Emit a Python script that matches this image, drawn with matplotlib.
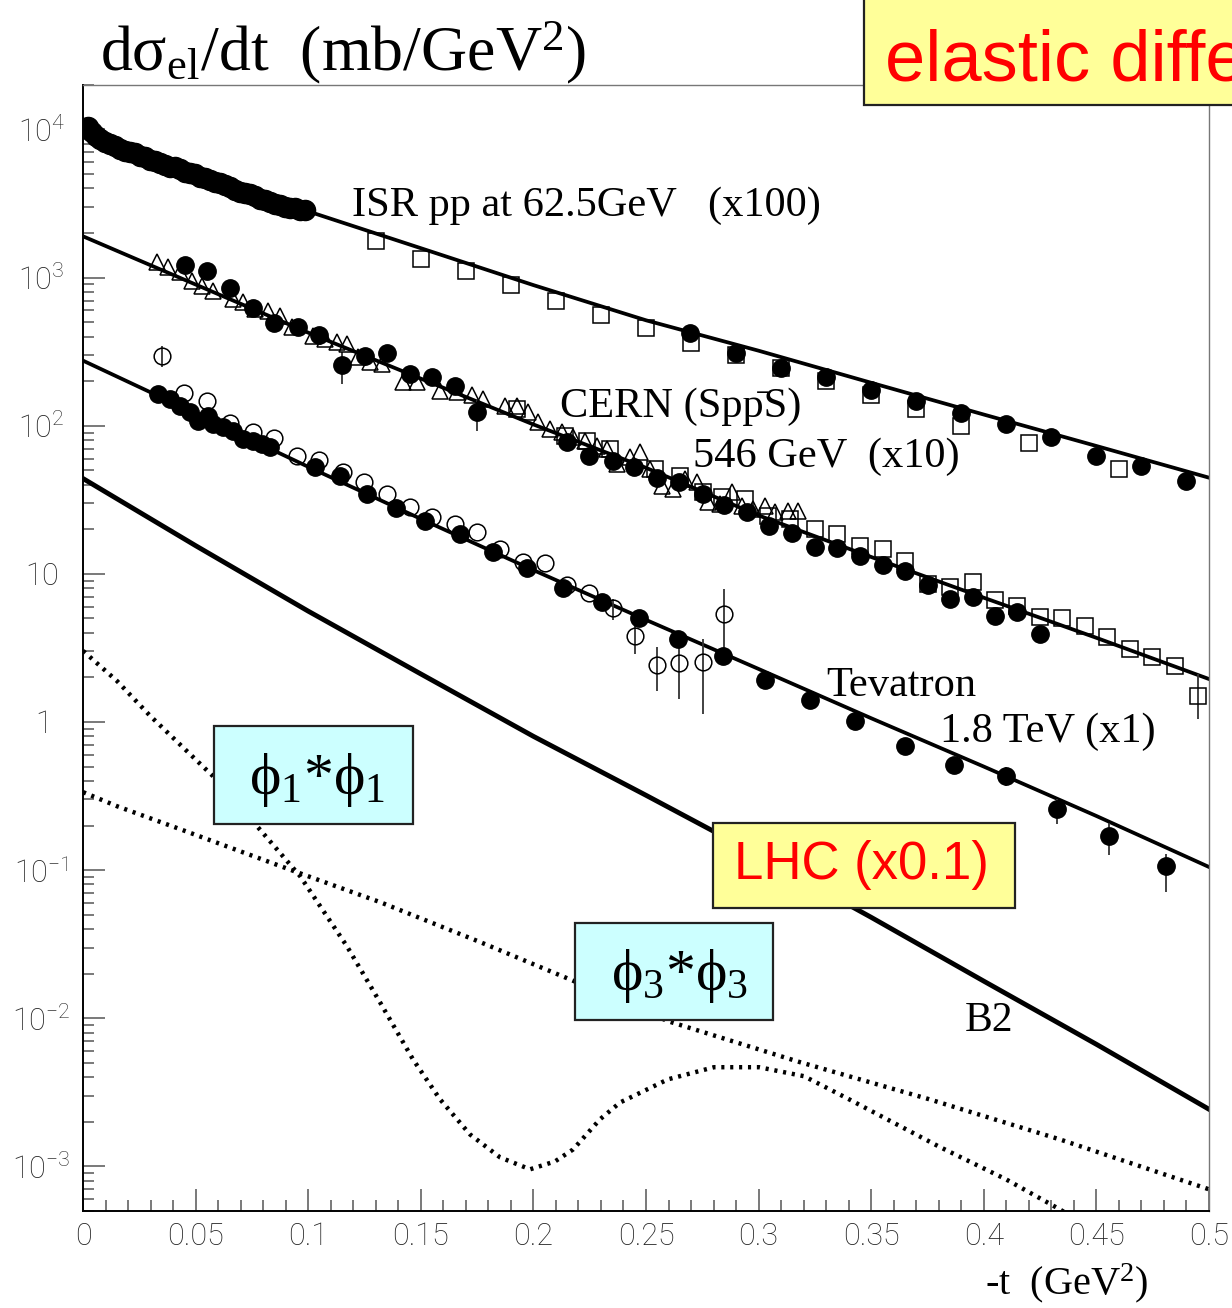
import matplotlib
matplotlib.use("Agg")
import matplotlib.pyplot as plt
from matplotlib.patches import Rectangle
from matplotlib.ticker import MultipleLocator, LogLocator, NullFormatter

plt.rcParams['mathtext.fontset'] = 'custom'
plt.rcParams['mathtext.rm'] = 'Liberation Serif'
plt.rcParams['mathtext.it'] = 'Liberation Serif:italic'
plt.rcParams['mathtext.bf'] = 'Liberation Serif:bold'
plt.rcParams['mathtext.sf'] = 'Roboto:light'

# ---- fitted curves ----
curve_t = [0, 0.05, 0.1, 0.15, 0.2, 0.25, 0.3, 0.35, 0.4, 0.45, 0.5]
isr_fit = [8900, 4850, 2800, 1580, 890, 515, 321, 195, 119, 73, 44.6]
cern_fit = [1900, 898, 425, 208, 102, 52, 24.8, 13.0, 6.9, 3.70, 1.95]
tev_fit = [275, 121, 52.8, 23.5, 10.6, 4.89, 2.28, 1.06, 0.50, 0.232, 0.105]
lhc_fit = [44, 15.5, 5.6, 2.11, 0.80, 0.32, 0.126, 0.048, 0.0178, 0.00667, 0.00243]

phi1_t = [0, 0.0151, 0.0298, 0.0577, 0.0764, 0.0964, 0.1172, 0.1319, 0.1465, 0.1585,
          0.1719, 0.1852, 0.1985, 0.2096, 0.2176, 0.2296, 0.2385, 0.2598, 0.2802,
          0.3002, 0.3202, 0.3401, 0.3801, 0.4099, 0.4338, 0.4498]
phi1_y = [3.02, 1.89, 1.10, 0.431, 0.205, 0.0910, 0.0306, 0.0128, 5.28e-3, 2.84e-3,
          1.64e-3, 1.15e-3, 9.55e-4, 1.08e-3, 1.30e-3, 2.08e-3, 2.70e-3, 3.87e-3, 4.67e-3,
          4.67e-3, 4.06e-3, 2.84e-3, 1.36e-3, 8.17e-4, 5.12e-4, 3.64e-4]
phi3_t = [0, 0.0151, 0.0431, 0.0950, 0.1319, 0.1763, 0.2158, 0.2598, 0.3184, 0.3757, 0.4338, 0.5]
phi3_y = [0.336, 0.270, 0.189, 0.0968, 0.0608, 0.0327, 0.0184, 9.55e-3, 5.05e-3, 2.84e-3, 1.52e-3, 7.0e-4]

# ---- ISR pp 62.5 GeV (x100) ----
isr_band_t = [0.0022, 0.0040, 0.0058, 0.0075, 0.0098, 0.0120, 0.0142, 0.0164, 0.0187, 0.0209,
              0.0231, 0.0253, 0.0275, 0.0298, 0.0320, 0.0342, 0.0364, 0.0386, 0.0409, 0.0431,
              0.0453, 0.0475, 0.0497, 0.0520, 0.0542, 0.0564, 0.0586, 0.0608, 0.0631, 0.0653,
              0.0675, 0.0697, 0.0719, 0.0742, 0.0764, 0.0786, 0.0808, 0.0830, 0.0853, 0.0875,
              0.0897, 0.0919, 0.0941, 0.0964, 0.0986]
isr_band_y = [10470, 9690, 8970, 8560, 8170, 7920, 7680, 7440, 7210, 7100,
              6890, 6670, 6470, 6270, 6080, 5980, 5800, 5620, 5540, 5370,
              5200, 5120, 4970, 4810, 4670, 4590, 4450, 4320, 4190, 4060,
              3930, 3810, 3750, 3640, 3530, 3420, 3320, 3260, 3160, 3110,
              3020, 2970, 2930, 2880, 2840]
isr_dot_t = [0.2695, 0.290, 0.310, 0.330, 0.350, 0.370, 0.390, 0.410, 0.430, 0.450, 0.470, 0.490]
isr_dot_y = [425, 311, 247, 214, 175, 148, 122, 102, 84.3, 62.7, 53.7, 42.5]
isr_sq_t = [0.130, 0.150, 0.170, 0.190, 0.210, 0.230, 0.250, 0.270, 0.290, 0.310, 0.330,
            0.350, 0.370, 0.390, 0.420, 0.460]
isr_sq_y = [1780, 1340, 1110, 897, 700, 563, 459, 364, 302, 247, 201, 162, 130, 100, 76.7, 51.2]

# ---- CERN SppS 546 GeV (x10) ----
cern_tri_t = [0.0329, 0.0377, 0.0431, 0.0484, 0.0528, 0.0577, 0.0666, 0.0710, 0.0764, 0.0821,
              0.0875, 0.0928, 0.1021, 0.1075, 0.1128, 0.1172, 0.1221, 0.1274, 0.1328, 0.1421,
              0.1483, 0.1585, 0.1661, 0.1727, 0.1776, 0.1874, 0.1927, 0.1976, 0.2020, 0.2074,
              0.2127, 0.2176, 0.2229, 0.2282, 0.2327, 0.2371, 0.2429, 0.2473, 0.2518, 0.2571,
              0.2620, 0.2673, 0.2726, 0.2775, 0.2829, 0.2882, 0.2926, 0.2975, 0.3028, 0.3073,
              0.3131, 0.3175]
cern_tri_y = [1282, 1186, 1099, 955, 884, 817, 721, 689, 618, 599,
              554, 467, 406, 387, 370, 358, 293, 271, 262, 198,
              198, 172, 170, 160, 152, 136, 136, 124, 106, 95.4,
              91.1, 84.3, 79.2, 73.3, 70.0, 55.4, 61.8, 66.7, 51.2, 39.4,
              37.5, 43.8, 41.9, 30.6, 29.7, 35.8, 28.8, 27.5, 28.8, 26.2,
              26.7, 26.7]
cern_dot_t = [0.0453, 0.0551, 0.0653, 0.0755, 0.0848, 0.0955, 0.1048, 0.1150, 0.1252, 0.1350,
              0.1452, 0.1550, 0.1652, 0.1750, 0.2149, 0.2247, 0.2353, 0.2447, 0.2549, 0.2647,
              0.2753, 0.2846, 0.2949, 0.3046, 0.3148, 0.3250, 0.3348, 0.3450, 0.3552, 0.3650,
              0.3752, 0.3850, 0.3952, 0.4050, 0.4147, 0.4250]
cern_dot_y = [1224, 1115, 856, 627, 497, 467, 412, 258, 297, 311,
              225, 214, 186, 124, 78.0, 62.7, 58.0, 52.9, 44.6, 41.9,
              34.8, 29.3, 26.2, 21.1, 18.9, 15.2, 15.0, 13.2, 11.5, 10.5,
              8.43, 6.78, 7.00, 5.20, 5.54, 3.94]
cern_sq_t = [0.1927, 0.2140, 0.2238, 0.2340, 0.2540, 0.2651, 0.2753, 0.2837, 0.2940, 0.3042,
             0.3139, 0.3250, 0.3348, 0.3450, 0.3552, 0.3650, 0.3752, 0.3850, 0.3952, 0.4050,
             0.4147, 0.4250, 0.4347, 0.4449, 0.4547, 0.4649, 0.4747, 0.4849, 0.4951]
cern_sq_y = [130, 85.5, 79.2, 70.0, 51.2, 45.9, 35.8, 33.1, 32.1, 24.6,
             23.5, 20.1, 18.6, 15.5, 14.8, 12.2, 8.55, 8.17, 8.83, 6.67,
             6.08, 5.12, 5.05, 4.46, 3.75, 3.11, 2.75, 2.39, 1.50]

# ---- Tevatron 1.8 TeV (x1) ----
tev_dot_t = [0.0333, 0.0386, 0.0431, 0.0475, 0.0511, 0.0555, 0.0577, 0.0622, 0.0666, 0.0710,
             0.0755, 0.0795, 0.0830, 0.1030, 0.1141, 0.1261, 0.1390, 0.1519, 0.1674, 0.1821,
             0.1972, 0.2131, 0.2305, 0.2469, 0.2642, 0.2842, 0.3028, 0.3228, 0.3428, 0.3650,
             0.3868, 0.4099, 0.4325, 0.4556, 0.4809]
tev_dot_y = [164, 152, 136, 124, 108, 117, 103, 98.5, 92.5, 81.7,
             79.2, 75.6, 72.1, 52.9, 45.9, 34.8, 27.9, 22.8, 18.6, 14.1,
             11.0, 8.04, 6.47, 5.05, 3.64, 2.79, 1.92, 1.41, 1.02, 0.689,
             0.512, 0.431, 0.258, 0.170, 0.106]
tev_open_t = [0.0351, 0.0448, 0.0551, 0.0653, 0.0755, 0.0848, 0.0950, 0.1048, 0.1155, 0.1248,
              0.1350, 0.1452, 0.1550, 0.1652, 0.1750, 0.1852, 0.1954, 0.2052, 0.2149, 0.2247,
              0.2353, 0.2451, 0.2549, 0.2647, 0.2753, 0.2846]
tev_open_y = [297, 167, 148, 105, 91.1, 83.0, 62.7, 58.9, 48.9, 41.9,
              34.8, 28.4, 24.3, 21.8, 19.2, 14.8, 12.1, 11.9, 8.43, 7.45,
              5.89, 3.81, 2.43, 2.51, 2.54, 5.37]

# visible error bars (t, low end, high end)
bar_t = [0.0351, 0.2451, 0.2549, 0.2647, 0.2753, 0.2846, 0.1150, 0.1750, 0.4951,
         0.4325, 0.4556, 0.4809, 0.4099, 0.3650, 0.3428, 0.2353]
bar_lo = [251, 2.88, 1.62, 1.43, 1.13, 2.58, 192, 92.5, 1.05,
          0.205, 0.126, 0.071, 0.37, 0.60, 0.90, 4.9]
bar_hi = [348, 4.97, 3.21, 3.64, 3.64, 7.92, 316, 152, 2.11,
          0.302, 0.208, 0.128, 0.50, 0.78, 1.15, 6.8]

fig = plt.figure(figsize=(12.32, 13.08), dpi=100)
ax = fig.add_axes([0.0674, 0.0742, 0.9139, 0.8609])
ax.set_yscale('log')
ax.set_xlim(0, 0.5)
ax.set_ylim(5e-4, 2e4)

# curves
dots = (0, (0.7, 1.3))
ax.plot(curve_t, isr_fit, color='black', lw=2.7, zorder=2)
ax.plot(curve_t, cern_fit, color='black', lw=2.7, zorder=2)
ax.plot(curve_t, tev_fit, color='black', lw=2.7, zorder=2)
ax.plot(curve_t, lhc_fit, color='black', lw=3.5, zorder=2)
ax.plot(phi1_t, phi1_y, color='black', lw=3.2, ls=dots, zorder=2)
ax.plot(phi3_t, phi3_y, color='black', lw=3.2, ls=dots, zorder=2)

# error bars
ax.vlines(bar_t, bar_lo, bar_hi, color='#333333', lw=1.3, zorder=3)

# data points
ax.plot(isr_band_t, isr_band_y, 'o', color='black', ms=14.5, zorder=4)
ax.plot(isr_sq_t, isr_sq_y, 's', mfc='none', mec='black', ms=11, mew=1.1, zorder=4)
ax.plot(isr_dot_t, isr_dot_y, 'o', color='black', ms=12.5, zorder=5)

ax.plot(cern_tri_t, cern_tri_y, '^', mfc='none', mec='black', ms=12, mew=1.1, zorder=4)
ax.plot(cern_sq_t, cern_sq_y, 's', mfc='none', mec='black', ms=11, mew=1.1, zorder=4)
ax.plot(cern_dot_t, cern_dot_y, 'o', color='black', ms=12.5, zorder=5)

ax.plot(tev_open_t, tev_open_y, 'o', mfc='none', mec='black', ms=12, mew=1.1, zorder=4)
ax.plot(tev_dot_t, tev_dot_y, 'o', color='black', ms=12.5, zorder=5)

# axes styling
for side in ['top', 'right']:
    ax.spines[side].set_color('#777777')
    ax.spines[side].set_linewidth(1.0)
for side in ['left', 'bottom']:
    ax.spines[side].set_color('black')
    ax.spines[side].set_linewidth(1.4)

x_major = [0, 0.05, 0.1, 0.15, 0.2, 0.25, 0.3, 0.35, 0.4, 0.45, 0.5]
x_labels = ['0', '0.05', '0.1', '0.15', '0.2', '0.25', '0.3', '0.35', '0.4', '0.45', '0.5']
ax.set_xticks(x_major, labels=x_labels, fontfamily='Roboto', fontweight='light',
              fontsize=22, color='#222222')
ax.xaxis.set_minor_locator(MultipleLocator(0.01))

y_major = [1e-3, 1e-2, 1e-1, 1, 10, 1e2, 1e3, 1e4]
y_labels = [r'$\mathsf{10^{-3}}$', r'$\mathsf{10^{-2}}$', r'$\mathsf{10^{-1}}$', r'$\mathsf{1}$',
            r'$\mathsf{10}$', r'$\mathsf{10^{2}}$', r'$\mathsf{10^{3}}$', r'$\mathsf{10^{4}}$']
ax.set_yticks(y_major, labels=y_labels, fontsize=22, color='#222222', ha='center')
ax.yaxis.set_minor_locator(LogLocator(base=10, subs=[2, 3, 4, 5, 6, 7, 8, 9], numticks=20))
ax.yaxis.set_minor_formatter(NullFormatter())

ax.tick_params(axis='both', which='both', direction='in', color='#555555', width=1.1,
               top=False, right=False)
ax.tick_params(axis='both', which='major', length=16)
ax.tick_params(axis='both', which='minor', length=8)
ax.tick_params(axis='x', which='major', pad=8)
ax.tick_params(axis='y', which='major', pad=30)

# annotations in data space
serif = ['Liberation Serif', 'DejaVu Serif']
fs = 30.5
ax.text(0.1195, 3060, 'ISR pp at 62.5GeV   (x100)', fontsize=fs, family=serif, va='center')
ax.text(0.2118, 134, 'CERN (Spp\u0304S)', fontsize=fs, family=serif, va='center')
ax.text(0.271, 61.8, '546 GeV  (x10)', fontsize=fs, family=serif, va='center')
ax.text(0.330, 1.75, 'Tevatron', fontsize=fs, family=serif, va='center')
ax.text(0.3806, 0.855, '1.8 TeV (x1)', fontsize=fs, family=serif, va='center')
ax.text(0.3917, 9.55e-3, 'B2', fontsize=30, family=serif, va='center')

# axis titles
fig.text(0.0812, 0.9465, 'd\u03c3$_{\\rm el}$/dt  (mb/GeV$^{2}$)', fontsize=46, family=serif,
         va='baseline')
fig.text(0.7995, 0.0105, r'-t  (GeV$^{2}$)', fontsize=29, family=serif, va='baseline')

# boxed labels in figure space
yellow = '#FFFF99'
cyan = '#CCFFFF'
fig.add_artist(Rectangle((0.7013, 0.9197), 0.35, 0.09, transform=fig.transFigure,
                         facecolor=yellow, edgecolor='#222222', lw=1.6, zorder=10))
fig.text(0.7183, 0.9388, 'elastic diffe', fontsize=52, color='red',
         family='Liberation Sans', va='baseline', zorder=11)

fig.add_artist(Rectangle((0.5787, 0.3058), 0.2451, 0.065, transform=fig.transFigure,
                         facecolor=yellow, edgecolor='#222222', lw=1.6, zorder=10))
fig.text(0.6993, 0.3385, 'LHC (x0.1)', fontsize=38, color='red', family='Liberation Sans',
         ha='center', va='center', zorder=11)

fig.add_artist(Rectangle((0.1737, 0.37), 0.1615, 0.0749, transform=fig.transFigure,
                         facecolor=cyan, edgecolor='#222222', lw=1.6, zorder=10))
fig.text(0.2573, 0.4035, '\u03d5$_1$*\u03d5$_1$', fontsize=43, family=serif,
         ha='center', va='center', zorder=11)

fig.add_artist(Rectangle((0.4667, 0.2202), 0.1607, 0.0742, transform=fig.transFigure,
                         facecolor=cyan, edgecolor='#222222', lw=1.6, zorder=10))
fig.text(0.552, 0.2535, '\u03d5$_3$*\u03d5$_3$', fontsize=43, family=serif,
         ha='center', va='center', zorder=11)

fig.savefig('out.png', dpi=100)
